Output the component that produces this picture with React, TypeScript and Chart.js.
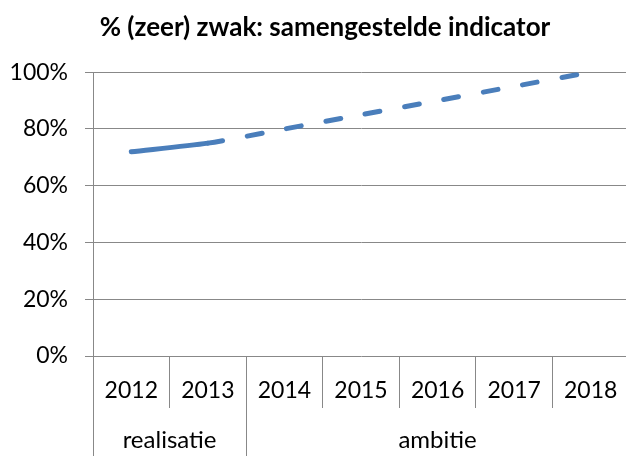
import React, { useEffect, useRef } from "react";
import { Chart, registerables } from "chart.js";

Chart.register(...registerables);

const titleText = "% (zeer) zwak: samengestelde indicator";
const years = ["2012", "2013", "2014", "2015", "2016", "2017", "2018"];
const values = [72, 75, 80, 85, 90, 95, 100];
const groupLabels = ["realisatie", "ambitie"];
const groupSpans = [2, 5];
const yTicks = [0, 20, 40, 60, 80, 100];

const FONT = "Lato";
const GRAY = "#888888";
const BLUE = "#4a7ebb";

const titleSpanPlugin = {
  id: "titleSpan",
  afterLayout(chart: any) {
    const t = chart.titleBlock;
    if (t) {
      t.left = 0;
      t.right = chart.width;
      t.width = chart.width;
    }
  },
};

const groupPlugin = {
  id: "groupLabels",
  afterDraw(chart: any) {
    const ctx = chart.ctx;
    const xs = chart.scales.x;
    const area = chart.chartArea;
    const step = xs.getPixelForValue(1) - xs.getPixelForValue(0);
    const tickEnd = area.bottom + 52;
    ctx.save();
    ctx.strokeStyle = GRAY;
    ctx.lineWidth = 1;
    ctx.fillStyle = "#000";
    ctx.font = `24px ${FONT}`;
    ctx.textAlign = "center";
    ctx.textBaseline = "alphabetic";
    let start = 0;
    const bounds: number[] = [0];
    groupSpans.forEach((span) => {
      bounds.push(start + span);
      start += span;
    });
    bounds.forEach((b) => {
      const x = Math.round(xs.getPixelForValue(b) - step / 2) + 0.5;
      ctx.beginPath();
      ctx.moveTo(x, tickEnd);
      ctx.lineTo(x, chart.height);
      ctx.stroke();
    });
    start = 0;
    groupLabels.forEach((label, i) => {
      const span = groupSpans[i];
      const x0 = xs.getPixelForValue(start) - step / 2;
      const x1 = xs.getPixelForValue(start + span - 1) + step / 2;
      ctx.fillText(label, (x0 + x1) / 2, 448);
      start += span;
    });
    ctx.restore();
  },
};

export default function App() {
  const ref = useRef<HTMLCanvasElement | null>(null);
  useEffect(() => {
    if (!ref.current) return;
    const chart = new Chart(ref.current, {
      type: "line",
      data: {
        labels: years,
        datasets: [
          {
            data: values,
            borderColor: BLUE,
            backgroundColor: BLUE,
            borderWidth: 5,
            borderCapStyle: "round",
            borderJoinStyle: "round",
            pointRadius: 0,
            tension: 0.25,
            segment: {
              borderDash: (c: any) => (c.p0DataIndex >= 1 ? [15, 25] : []),
            },
          } as any,
        ],
      },
      options: {
        responsive: false,
        animation: false,
        layout: { padding: { left: 0, right: 21, top: 0, bottom: 0 } },
        plugins: {
          legend: { display: false },
          tooltip: { enabled: false },
          title: {
            display: true,
            text: titleText,
            color: "#000",
            font: { family: FONT, size: 26, weight: "bold" },
            padding: { top: 12, bottom: 29 },
          },
        },
        scales: {
          x: {
            type: "category",
            offset: true,
            grid: {
              offset: true,
              drawOnChartArea: false,
              drawTicks: true,
              tickLength: 52,
              color: GRAY,
              tickColor: GRAY,
            },
            border: { display: true, color: GRAY, width: 1 },
            ticks: {
              color: "#000",
              font: { family: FONT, size: 23 },
              padding: -31,
              maxRotation: 0,
              autoSkip: false,
            },
            afterFit: (s: any) => {
              s.height = 100;
            },
          },
          y: {
            min: 0,
            max: 100,
            afterBuildTicks: (s: any) => {
              s.ticks = yTicks.map((v) => ({ value: v }));
            },
            grid: {
              color: (c: any) => (c.tick && c.tick.value === 0 ? "rgba(0,0,0,0)" : GRAY),
              borderDash: [1.5, 1.5],
              tickBorderDash: [],
              tickColor: GRAY,
              tickLength: 8,
              lineWidth: 1,
            },
            border: { display: true, color: GRAY, width: 1 },
            ticks: {
              color: "#000",
              font: { family: FONT, size: 23 },
              padding: 17,
              callback: (v: any) => v + "%",
            },
            afterFit: (s: any) => {
              s.width = 93;
            },
          },
        },
      } as any,
      plugins: [titleSpanPlugin, groupPlugin],
    });
    return () => chart.destroy();
  }, []);
  return (
    <div
      style={{
        position: "absolute",
        left: 0,
        top: 0,
        width: 626,
        height: 456,
        overflow: "hidden",
        background: "#fff",
      }}
    >
      <canvas ref={ref} width={650} height={456} style={{ width: 650, height: 456 }} />
    </div>
  );
}
